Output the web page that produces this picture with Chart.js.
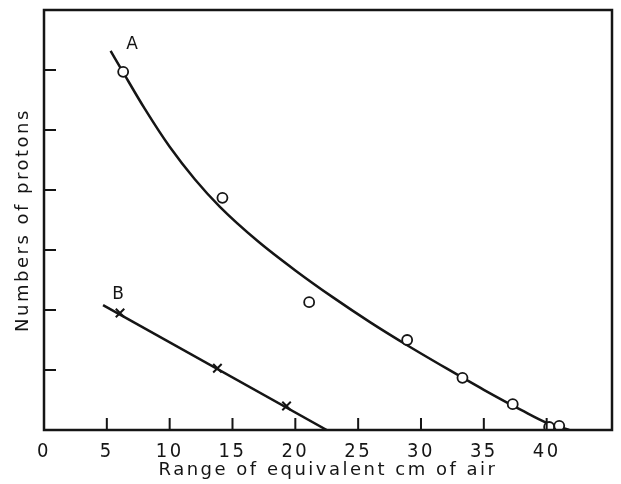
<!DOCTYPE html>
<html>
<head>
<meta charset="utf-8">
<script src="https://cdn.jsdelivr.net/npm/chart.js@4"></script>
<style>
  html, body { margin: 0; padding: 0; background: #fff; }
</style>
</head>
<body>
<canvas id="chart" width="621" height="484"></canvas>
<script>
// curve A: measured points (open circles)
var obsAx = [6.3, 14.2, 21.1, 28.9, 33.3, 37.3, 40.2, 41.0];
var obsAy = [5.97, 3.87, 2.13, 1.50, 0.87, 0.43, 0.05, 0.07];
// curve A: the drawn line, read along its length
var curveAx = [5.3, 6.3, 8.0, 10.0, 12.0, 14.0, 17.0, 20.0, 23.0, 26.0, 29.0, 32.0, 35.0, 38.0, 40.0, 41.8];
var curveAy = [6.32, 5.96, 5.36, 4.72, 4.18, 3.72, 3.15, 2.66, 2.21, 1.79, 1.40, 1.03, 0.67, 0.33, 0.12, 0.0];
// curve B: measured points (crosses) and straight line
var obsBx = [6.05, 13.8, 19.3];
var obsBy = [1.95, 1.03, 0.40];
var lineBx = [4.7, 22.5];
var lineBy = [2.08, 0.0];

var xTickValues = [0, 5, 10, 15, 20, 25, 30, 35, 40];
var yTickValues = [1, 2, 3, 4, 5, 6];

var curveNames = ['A', 'B'];
var nameX = [7.0, 5.9];
var nameY = [6.42, 2.25];

function toPoints(xs, ys) {
    return xs.map(function (x, i) { return { x: x, y: ys[i] }; });
}

var ink = '#151515';
var textFont = '"DejaVu Sans", sans-serif';
var digitFont = '"Liberation Sans Narrow", "DejaVu Sans Condensed", "DejaVu Sans", sans-serif';

// frame, inward tick marks and curve letters
var framePlugin = {
    id: 'frame',
    beforeDraw: function (chart) {
        chart.ctx.letterSpacing = '2.5px';
    },
    afterDraw: function (chart) {
        var ctx = chart.ctx;
        var a = chart.chartArea;
        var xs = chart.scales.x;
        var ys = chart.scales.y;
        ctx.save();
        ctx.strokeStyle = ink;
        ctx.lineWidth = 2.5;
        ctx.strokeRect(a.left, a.top, a.right - a.left, a.bottom - a.top);
        ctx.lineWidth = 2;
        ctx.beginPath();
        xTickValues.forEach(function (v) {
            if (v === 0) return;
            var px = xs.getPixelForValue(v);
            ctx.moveTo(px, a.bottom);
            ctx.lineTo(px, a.bottom - 12);
        });
        yTickValues.forEach(function (v) {
            var py = ys.getPixelForValue(v);
            ctx.moveTo(a.left, py);
            ctx.lineTo(a.left + 12, py);
        });
        ctx.stroke();

        ctx.letterSpacing = '0px';
        ctx.fillStyle = ink;
        ctx.font = '17px ' + textFont;
        ctx.textAlign = 'center';
        ctx.textBaseline = 'middle';
        curveNames.forEach(function (n, i) {
            ctx.fillText(n, xs.getPixelForValue(nameX[i]), ys.getPixelForValue(nameY[i]));
        });
        ctx.restore();
    }
};

new Chart(document.getElementById('chart'), {
    type: 'scatter',
    data: {
        datasets: [{
            label: 'A points',
            data: toPoints(obsAx, obsAy),
            pointStyle: 'circle',
            pointRadius: 5,
            pointBorderWidth: 1.8,
            pointBackgroundColor: '#fff',
            pointBorderColor: ink
        }, {
            label: 'B points',
            data: toPoints(obsBx, obsBy),
            pointStyle: 'crossRot',
            pointRadius: 6,
            pointBorderWidth: 2,
            pointBorderColor: ink
        }, {
            label: 'A',
            data: toPoints(curveAx, curveAy),
            showLine: true,
            borderColor: ink,
            borderWidth: 2.5,
            pointRadius: 0,
            cubicInterpolationMode: 'monotone'
        }, {
            label: 'B',
            data: toPoints(lineBx, lineBy),
            showLine: true,
            borderColor: ink,
            borderWidth: 2.5,
            pointRadius: 0
        }]
    },
    options: {
        responsive: false,
        animation: false,
        layout: { padding: { top: 10, right: 9, left: 0, bottom: 0 } },
        plugins: {
            legend: { display: false },
            tooltip: { enabled: false }
        },
        scales: {
            x: {
                type: 'linear',
                min: 0,
                max: 45.2,
                grid: { display: false },
                border: { display: false },
                afterBuildTicks: function (scale) {
                    scale.ticks = xTickValues.map(function (v) { return { value: v }; });
                },
                afterFit: function (scale) { scale.height = 54; },
                ticks: {
                    color: ink,
                    padding: 2,
                    maxRotation: 0,
                    autoSkip: false,
                    font: { family: digitFont, size: 20 }
                },
                title: {
                    display: true,
                    text: 'Range of equivalent cm of air',
                    color: ink,
                    padding: { top: 0, bottom: 3 },
                    font: { family: textFont, size: 18 }
                }
            },
            y: {
                type: 'linear',
                min: 0,
                max: 7,
                grid: { display: false },
                border: { display: false },
                afterBuildTicks: function (scale) {
                    scale.ticks = yTickValues.map(function (v) { return { value: v }; });
                },
                afterFit: function (scale) { scale.width = 44; },
                ticks: { display: false },
                title: {
                    display: true,
                    text: 'Numbers of protons',
                    color: ink,
                    padding: { top: 13, bottom: 0 },
                    font: { family: textFont, size: 18 }
                }
            }
        }
    },
    plugins: [framePlugin]
});
</script>
</body>
</html>
